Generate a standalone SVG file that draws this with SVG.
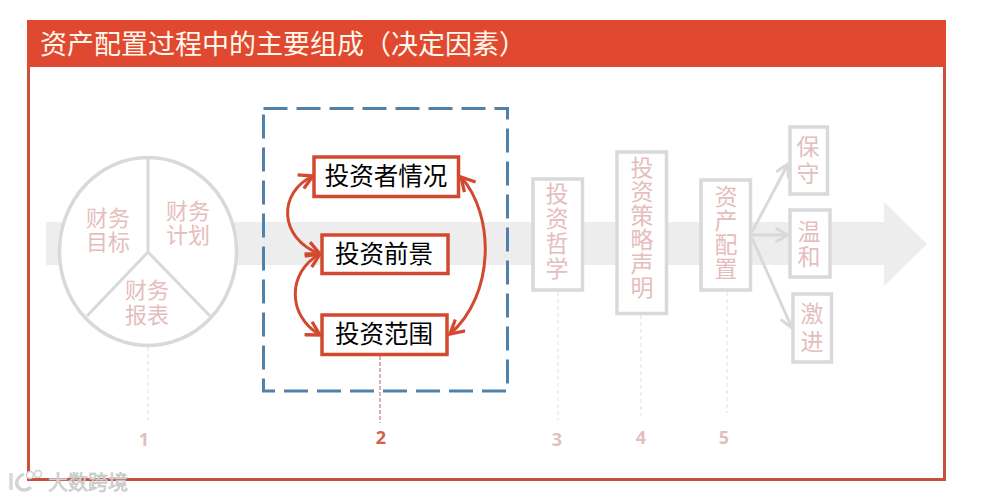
<svg xmlns="http://www.w3.org/2000/svg" width="985" height="500" viewBox="0 0 985 500">
<style>
text{font-family:"Noto Sans CJK SC","Liberation Sans",sans-serif;text-anchor:middle}
.faint{fill:#E5BDBD;font-size:22px}
.vt{fill:#E5BDBD;font-size:23px;writing-mode:vertical-rl}
.box{fill:#fff;stroke:#D9D9D9;stroke-width:3.5}
.node{fill:#fff;stroke:#D2492F;stroke-width:3.5}
.ntext{fill:#000;font-size:24.5px}
.lead{fill:none;stroke:#DDD;stroke-width:1;stroke-dasharray:4 3}
.num{font-family:"Open Sans","Liberation Sans",sans-serif;font-weight:700;font-size:18px;fill:#E2BFBF}
.curve{fill:none;stroke:#D2492F;stroke-width:3;marker-start:url(#open);marker-end:url(#open)}
.gray{fill:none;stroke:#D9D9D9;stroke-width:3;marker-end:url(#openg)}
</style>
<defs>
<marker id="open" viewBox="0 0 12 12" refX="10" refY="6" markerWidth="6" markerHeight="6" orient="auto-start-reverse"><path d="M1 1 L10 6 L1 11" fill="none" stroke="#D2492F" stroke-width="2.2"/></marker>
<marker id="openg" viewBox="0 0 12 12" refX="10" refY="6" markerWidth="5.500" markerHeight="5.500" orient="auto"><path d="M1 1 L10 6 L1 11" fill="none" stroke="#D9D9D9" stroke-width="2.2"/></marker>
</defs>
<rect width="985" height="500" fill="#fff"/>
<g id="frame">
<rect x="28.500" y="21.500" width="916" height="458" fill="#fff" stroke="#C9513A" stroke-width="3"/>
<rect x="27" y="20" width="919" height="47" fill="#E0492F"/>
<text x="40" y="54" style="text-anchor:start;font-size:27px;fill:#FFF8EC">资产配置过程中的主要组成（决定因素）</text>
</g>
<g id="flow-arrow"><path d="M46 222H884V202L927 244L884 286V265H46Z" fill="#EDEDED"/></g>
<g id="pie">
<ellipse cx="148" cy="251.500" rx="88.500" ry="94" fill="#fff" stroke="#D9D9D9" stroke-width="3.500"/>
<path d="M148 158V252M148 252L87 316M148 252L210 316" fill="none" stroke="#D9D9D9" stroke-width="3"/>
<text class="faint" x="108" y="226">财务<tspan x="108" dy="24">目标</tspan></text>
<text class="faint" x="188" y="219">财务<tspan x="188" dy="24">计划</tspan></text>
<text class="faint" x="147" y="298">财务<tspan x="147" dy="25">报表</tspan></text>
</g>
<g id="group-box"><rect x="263.500" y="108.500" width="244" height="282.500" fill="none" stroke="#4F81AD" stroke-width="3" stroke-dasharray="24 9"/></g>
<g id="connectors">
<path class="curve" d="M313 176C278 192 278 238 320 254"/>
<path class="curve" d="M320 254C287 272 287 316 320 335"/>
<path class="curve" d="M461 177C495 215 495 295 450 334"/>
<path class="gray" d="M752 232L788 164"/>
<path class="gray" d="M752 235L788 235"/>
<path class="gray" d="M752 238L792 328"/>
<path class="lead" d="M148 347V420"/>
<path d="M380 356V423" fill="none" stroke="#B5625A" stroke-width="1" stroke-dasharray="4 2"/>
<path class="lead" d="M558 292V420"/>
<path class="lead" d="M641 315V416"/>
<path class="lead" d="M727 292V413"/>
</g>
<g id="n-qk"><rect class="node" x="314" y="157" width="144.500" height="39.500"/><text class="ntext" x="386" y="185">投资者情况</text></g>
<g id="n-qj"><rect class="node" x="322" y="235" width="126" height="38.500"/><text class="ntext" x="384" y="263">投资前景</text></g>
<g id="n-fw"><rect class="node" x="322" y="315" width="125" height="39.500"/><text class="ntext" x="384" y="343">投资范围</text></g>
<g id="n-zx"><rect class="box" x="533" y="179" width="49.500" height="111"/><text class="vt" x="557" y="232" style="letter-spacing:2px">投资哲学</text></g>
<g id="n-cl"><rect class="box" x="617" y="152" width="49.500" height="161.500"/><text class="vt" x="642" y="228" style="letter-spacing:1px">投资策略声明</text></g>
<g id="n-pz"><rect class="box" x="701" y="180" width="49.500" height="110"/><text class="vt" x="726" y="233" style="letter-spacing:1px">资产配置</text></g>
<g id="n-bs"><rect class="box" x="790" y="127" width="37.500" height="67"/><text class="vt" x="808" y="162" style="letter-spacing:4px">保守</text></g>
<g id="n-wh"><rect class="box" x="790" y="210" width="40" height="67"/><text class="vt" x="809" y="245" style="letter-spacing:2px">温和</text></g>
<g id="n-jj"><rect class="box" x="793" y="294" width="38.500" height="68"/><text class="vt" x="812" y="330" style="letter-spacing:5px">激进</text></g>
<g id="labels">
<text class="num" x="144" y="446">1</text>
<text class="num" x="381" y="444" style="fill:#D2604C">2</text>
<text class="num" x="557" y="446">3</text>
<text class="num" x="641" y="444">4</text>
<text class="num" x="724" y="444">5</text>
</g>
<g id="watermark">
<path d="M11 473V490" fill="none" stroke="#D8D8D8" stroke-width="3.500"/>
<path d="M24 474C17 477 15 483 18 487C21 491 27 491 31 487" fill="none" stroke="#D4D4D4" stroke-width="3.500"/>
<circle cx="30" cy="475" r="3.500" fill="#fff" stroke="#CFCFCF" stroke-width="1.500"/><circle cx="38" cy="474" r="3.500" fill="#fff" stroke="#CFCFCF" stroke-width="1.500"/>
<text x="88" y="490" style="font-size:20px;fill:#DADADA;stroke:#B8B8B8;stroke-width:.5">大数跨境</text>
</g>
</svg>
